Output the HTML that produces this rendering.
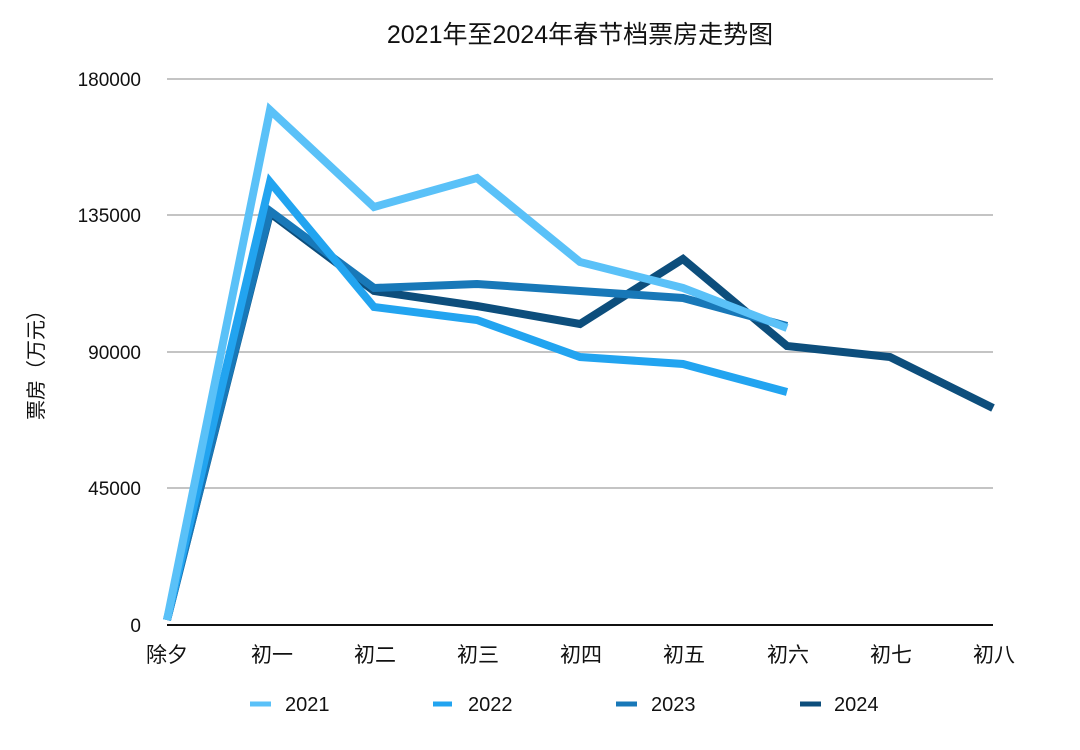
<!DOCTYPE html>
<html><head><meta charset="utf-8"><style>
body{margin:0;background:#fff;}
svg text{font-family:"Liberation Sans","Noto Sans CJK SC",sans-serif;fill:#111;}
</style></head><body>
<svg width="1080" height="745" viewBox="0 0 1080 745" xmlns="http://www.w3.org/2000/svg">
<rect width="1080" height="745" fill="#fff"/>
<text x="580" y="43" font-size="25" text-anchor="middle">2021年至2024年春节档票房走势图</text>
<g stroke="#c4c4c4" stroke-width="2">
<line x1="167" y1="79" x2="993" y2="79"/>
<line x1="167" y1="215" x2="993" y2="215"/>
<line x1="167" y1="352" x2="993" y2="352"/>
<line x1="167" y1="488" x2="993" y2="488"/>
</g>
<line x1="167" y1="625" x2="993" y2="625" stroke="#111" stroke-width="2"/>
<g font-size="19" text-anchor="end">
<text x="141" y="86">180000</text>
<text x="141" y="222">135000</text>
<text x="141" y="359">90000</text>
<text x="141" y="495">45000</text>
<text x="141" y="632">0</text>
</g>
<text transform="translate(43,360) rotate(-90)" font-size="20" text-anchor="middle">票房（万元）</text>
<g font-size="21" text-anchor="middle">
<text x="167" y="662">除夕</text><text x="272" y="662">初一</text><text x="375" y="662">初二</text>
<text x="478" y="662">初三</text><text x="581" y="662">初四</text><text x="684" y="662">初五</text>
<text x="788" y="662">初六</text><text x="891" y="662">初七</text><text x="994" y="662">初八</text>
</g>
<g fill="none" stroke-width="8" stroke-linejoin="miter">
<polyline stroke="#0d4e7c" points="167,620 270,213 374,291 477,306 580,324 683,259 787,346 890,357 993,408"/>
<polyline stroke="#1878b8" points="167,620 270,211 374,288 477,284 580,291 683,298 787,326"/>
<polyline stroke="#22a4f0" points="167,620 270,182 374,307 477,320 580,357 683,364 787,392"/>
<polyline stroke="#5ac1f8" points="167,620 270,110 374,207 477,178 580,262 683,288 787,328"/>
</g>
<g stroke-width="5">
<line x1="250" y1="704" x2="271" y2="704" stroke="#5ac1f8"/>
<line x1="433" y1="704" x2="452" y2="704" stroke="#22a4f0"/>
<line x1="616" y1="704" x2="637" y2="704" stroke="#1878b8"/>
<line x1="800" y1="704" x2="821" y2="704" stroke="#0d4e7c"/>
</g>
<g font-size="20">
<text x="285" y="711">2021</text><text x="468" y="711">2022</text>
<text x="651" y="711">2023</text><text x="834" y="711">2024</text>
</g>
</svg>
</body></html>
